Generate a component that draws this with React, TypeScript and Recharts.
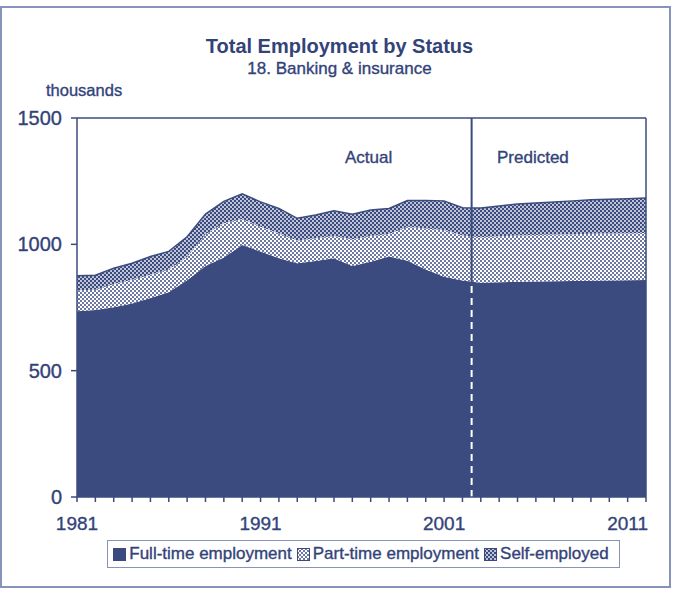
import React from "react";
import { AreaChart, Area, XAxis, YAxis, ReferenceLine } from "recharts";

// ─── Data (thousands) ─────────────────────────────────────────────────────────

const years = [
  1981, 1982, 1983, 1984, 1985, 1986, 1987, 1988, 1989, 1990, 1991, 1992, 1993, 1994, 1995, 1996,
  1997, 1998, 1999, 2000, 2001, 2002, 2003, 2004, 2005, 2006, 2007, 2008, 2009, 2010, 2011, 2012,
];
const fullTime = [
  735, 740, 751, 766, 788, 810, 858, 914, 948, 997, 972, 945, 925, 934, 945, 914,
  931, 952, 935, 900, 872, 857, 848, 850, 852, 853, 854, 855, 856, 857, 858, 859,
];
const partTime = [
  83, 80, 92, 94, 92, 90, 92, 126, 135, 103, 98, 98, 90, 90, 88, 106,
  102, 89, 135, 163, 185, 178, 180, 182, 183, 184, 185, 185, 186, 186, 186, 186,
];
const selfEmployed = [
  58, 58, 62, 65, 72, 72, 80, 80, 87, 100, 98, 99, 88, 92, 100, 99,
  103, 101, 103, 110, 115, 110, 116, 120, 125, 127, 129, 132, 134, 135, 136, 138,
];
const yTicks = [0, 500, 1000, 1500];
const labelledYears = [1981, 1991, 2001, 2011];
const lastActualYear = 2002;

const data = years.map((year, i) => ({
  year,
  fullTime: fullTime[i],
  partTime: partTime[i],
  selfEmployed: selfEmployed[i],
}));

// ─── Styles ───────────────────────────────────────────────────────────────────

const NAVY = "#3b4b7f";
const TEXT = "#33437a";
const FONT = "'Liberation Sans', Arial, sans-serif";
const heavy = { WebkitTextStroke: `0.35px ${TEXT}` } as React.CSSProperties;

const splitX = lastActualYear + 0.5;
const splitTop = (fullTime[years.indexOf(lastActualYear)] + fullTime[years.indexOf(lastActualYear) + 1]) / 2;

function Patterns({ prefix }: { prefix: string }) {
  return (
    <defs>
      <pattern id={`${prefix}pt`} width="4" height="4" patternUnits="userSpaceOnUse">
        <rect width="4" height="4" fill="#fff" />
        <circle cx="1" cy="1" r="1" fill={NAVY} />
        <circle cx="3" cy="3" r="1" fill={NAVY} />
      </pattern>
      <pattern id={`${prefix}se`} width="4" height="4" patternUnits="userSpaceOnUse">
        <rect width="4" height="4" fill={NAVY} />
        <circle cx="1" cy="1" r="0.9" fill="#fff" />
        <circle cx="3" cy="3" r="0.9" fill="#fff" />
      </pattern>
    </defs>
  );
}

function LegendItem({ label, fill, prefix }: { label: string; fill: string; prefix?: string }) {
  return (
    <span style={{ display: "inline-flex", alignItems: "center", marginRight: 5 }}>
      <svg width={13} height={13} style={{ marginRight: 3 }}>
        {prefix && <Patterns prefix={prefix} />}
        <rect x={0.5} y={0.5} width={12} height={12} fill={fill} stroke={NAVY} strokeWidth={1} />
      </svg>
      {label}
    </span>
  );
}

export default function App() {
  const tickStyle = { fill: TEXT, stroke: TEXT, strokeWidth: 0.35, fontFamily: FONT };
  return (
    <div style={{ position: "absolute", left: 0, top: 0, width: 675, height: 592, background: "#fff", fontFamily: FONT, color: TEXT, overflow: "hidden" }}>
      {/* outer frame */}
      <div style={{ position: "absolute", left: 0, top: 6, width: 667, height: 578, border: "2px solid #8793b8" }} />

      <div style={{ position: "absolute", left: 0, width: 675, top: 36, textAlign: "center", fontSize: 20, lineHeight: "20px", fontWeight: 700, paddingLeft: 2 }}>
        Total Employment by Status
      </div>
      <div style={{ position: "absolute", left: 0, width: 675, top: 60, textAlign: "center", fontSize: 17, lineHeight: "17px", paddingLeft: 2, ...heavy }}>
        18. Banking &amp; insurance
      </div>
      <div style={{ position: "absolute", left: 46, top: 82, fontSize: 16.5, lineHeight: "16px", ...heavy }}>thousands</div>

      <div style={{ position: "absolute", left: 0, top: 0 }}>
        <AreaChart width={675} height={592} data={data} margin={{ top: 118, right: 29, bottom: 55, left: 0 }}>
          <Patterns prefix="c" />
          <XAxis
            dataKey="year"
            type="number"
            domain={[1981, 2012]}
            ticks={years}
            interval={0}
            tickFormatter={(v: number) => (labelledYears.includes(v) ? String(v) : "")}
            height={40}
            tickSize={5}
            tickMargin={15}
            stroke={NAVY}
            strokeWidth={1.5}
            tick={{ ...tickStyle, fontSize: 19 }}
          />
          <YAxis
            type="number"
            domain={[0, 1500]}
            ticks={yTicks}
            width={77}
            tickSize={6}
            tickMargin={9}
            stroke={NAVY}
            strokeWidth={1.5}
            tick={{ ...tickStyle, fontSize: 20 }}
          />
          <Area
            type="linear"
            dataKey="fullTime"
            stackId="emp"
            fill={NAVY}
            fillOpacity={1}
            stroke="none"
            isAnimationActive={false}
          />
          <Area
            type="linear"
            dataKey="partTime"
            stackId="emp"
            fill="url(#cpt)"
            fillOpacity={1}
            stroke="none"
            isAnimationActive={false}
          />
          <Area
            type="linear"
            dataKey="selfEmployed"
            stackId="emp"
            fill="url(#cse)"
            fillOpacity={1}
            stroke={NAVY}
            strokeWidth={1.5}
            isAnimationActive={false}
          />
          <ReferenceLine y={1500} stroke={NAVY} strokeWidth={1.5} />
          <ReferenceLine x={2012} stroke={NAVY} strokeWidth={1.5} />
          <ReferenceLine x={splitX} stroke={NAVY} strokeWidth={2} />
          <ReferenceLine
            segment={[{ x: splitX, y: 0 }, { x: splitX, y: splitTop }]}
            stroke="#fff"
            strokeWidth={2}
            strokeDasharray="7 5"
          />
        </AreaChart>
      </div>

      <div style={{ position: "absolute", left: 345, top: 149, fontSize: 17, lineHeight: "17px", ...heavy }}>Actual</div>
      <div style={{ position: "absolute", left: 497, top: 149, fontSize: 17, lineHeight: "17px", ...heavy }}>Predicted</div>

      {/* legend */}
      <div
        style={{
          position: "absolute",
          left: 107,
          top: 540,
          width: 511,
          height: 26,
          border: "1px solid #8793b8",
          display: "flex",
          alignItems: "center",
          justifyContent: "center",
          fontSize: 17,
          whiteSpace: "nowrap",
          ...heavy,
        }}
      >
        <LegendItem label="Full-time employment" fill={NAVY} />
        <LegendItem label="Part-time employment" fill="url(#lpt)" prefix="l" />
        <LegendItem label="Self-employed" fill="url(#lse)" prefix="m" />
      </div>
    </div>
  );
}
